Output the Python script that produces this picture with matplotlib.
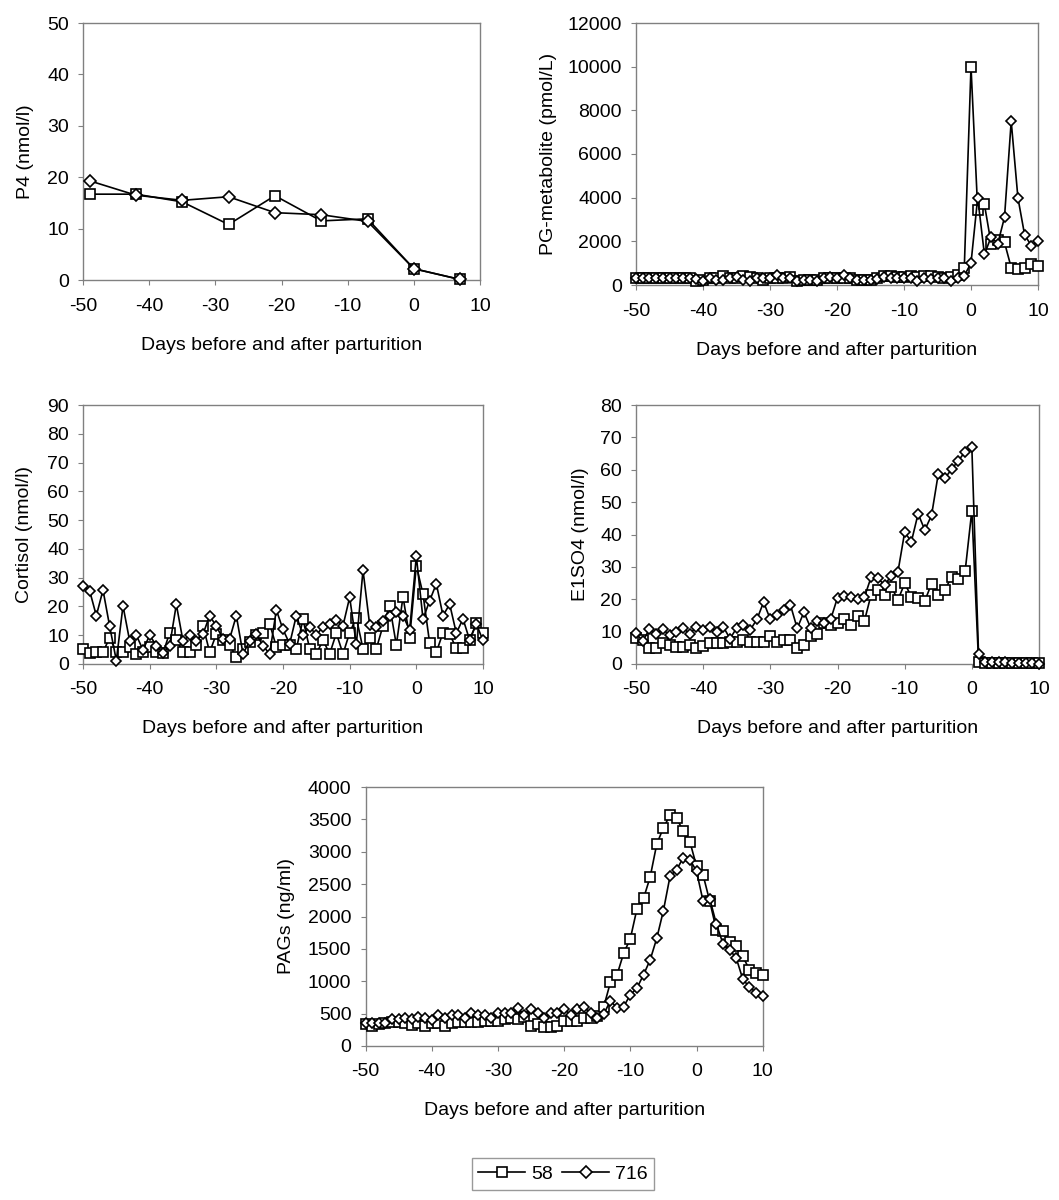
import matplotlib
matplotlib.use("Agg")
import matplotlib.pyplot as plt
import numpy as np

plt.rcParams["font.family"] = ["Liberation Sans", "DejaVu Sans"]
plt.rcParams["font.size"] = 14
plt.rcParams["axes.unicode_minus"] = False

# ---- data ----
p4_days = [-49, -42, -35, -28, -21, -14, -7, 0, 7]
p4_58 = [16.7, 16.7, 15.2, 10.8, 16.4, 11.5, 11.9, 2.2, 0.1]
p4_716 = [19.3, 16.5, 15.5, 16.2, 13.1, 12.7, 11.4, 2.2, 0.1]

days = list(range(-50, 11))

pg_58 = [300, 320, 300, 300, 300, 320, 300, 310, 300, 200,
         250, 300, 300, 400, 300, 300, 400, 350, 300, 250,
         300, 300, 300, 350, 200, 250, 250, 250, 300, 300,
         300, 300, 300, 250, 250, 250, 300, 400, 400, 350,
         350, 400, 350, 400, 400, 350, 300, 350, 450, 800,
         10000, 3450, 3700, 1900, 2050, 1950, 800, 720, 800, 950, 870]
pg_716 = [300, 320, 310, 300, 320, 310, 300, 310, 320, 290,
          200, 330, 250, 220, 300, 350, 250, 200, 300, 310,
          330, 450, 320, 300, 200, 220, 250, 200, 320, 350,
          310, 450, 300, 250, 230, 250, 280, 350, 300, 330,
          300, 330, 200, 300, 280, 300, 320, 200, 300, 430,
          1000, 4000, 1400, 2200, 1900, 3100, 7500, 4000, 2300, 1800, 2000]

cort_58 = [5.3, 3.7, 4.1, 4.1, 9.2, 4.1, 4.1, 6.0, 3.5, 4.1,
           6.0, 4.1, 3.7, 10.9, 8.3, 4.1, 4.1, 6.6, 13.3, 4.1,
           10.4, 8.3, 6.6, 2.3, 5.3, 7.8, 10.0, 10.9, 14.0, 6.0,
           6.6, 6.6, 5.3, 15.5, 5.3, 3.5, 8.3, 3.5, 10.7, 3.5,
           10.9, 16.1, 5.3, 9.2, 5.3, 13.3, 20.3, 6.6, 23.4, 9.2,
           34.2, 24.3, 7.2, 4.1, 10.9, 10.4, 5.4, 5.4, 8.5, 14.1, 10.9]
cort_716 = [27.1, 25.4, 16.8, 25.7, 13.1, 1.2, 20.2, 8.0, 10.0, 4.9,
            10.0, 6.4, 3.7, 6.4, 20.7, 8.0, 10.0, 8.0, 10.4, 16.8,
            13.1, 8.8, 8.8, 16.8, 3.5, 8.0, 10.4, 6.3, 3.5, 18.8,
            12.0, 7.0, 16.8, 10.0, 13.0, 10.0, 13.0, 13.8, 15.2, 13.3,
            23.2, 6.8, 32.6, 13.6, 13.0, 15.0, 16.8, 18.2, 16.8, 11.8,
            37.5, 15.6, 22.0, 27.9, 16.8, 20.8, 10.7, 15.7, 8.3, 13.9, 8.2]

e1_58 = [7.9, 7.4, 4.8, 4.8, 6.6, 6.0, 5.4, 5.4, 5.9, 4.8,
         5.6, 6.4, 6.4, 6.4, 6.9, 6.9, 7.4, 6.9, 6.9, 6.9,
         8.7, 6.9, 7.4, 7.4, 4.8, 5.9, 8.7, 9.3, 12.6, 12.1,
         12.6, 13.8, 12.1, 14.9, 13.2, 21.4, 22.9, 21.4, 23.9, 19.8,
         24.9, 20.8, 20.3, 19.5, 24.8, 21.3, 23.0, 26.9, 26.4, 28.6,
         47.4, 0.7, 0.3, 0.3, 0.3, 0.3, 0.2, 0.2, 0.2, 0.2, 0.2]
e1_716 = [9.5, 7.1, 10.7, 9.3, 10.7, 8.9, 10.0, 11.2, 9.3, 11.5,
          10.5, 11.5, 9.8, 11.5, 7.8, 11.2, 11.9, 10.5, 13.8, 19.1,
          13.8, 15.0, 16.7, 18.2, 11.0, 16.0, 11.2, 13.4, 12.6, 13.9,
          20.5, 21.0, 20.6, 20.0, 20.6, 26.8, 26.5, 24.4, 27.2, 28.5,
          40.7, 37.8, 46.4, 41.4, 45.9, 58.7, 57.4, 60.2, 62.8, 65.6,
          67.0, 3.1, 0.6, 0.5, 0.5, 0.5, 0.3, 0.2, 0.2, 0.2, 0.1]

pag_58 = [340, 310, 335, 350, 370, 370, 360, 330, 350, 310,
          350, 360, 310, 360, 370, 370, 370, 370, 380, 380,
          380, 420, 430, 420, 450, 310, 340, 290, 300, 310,
          380, 390, 390, 440, 430, 465, 610, 985, 1100, 1435,
          1655, 2115, 2280, 2610, 3120, 3370, 3565, 3515, 3320, 3155,
          2780, 2640, 2235, 1795, 1770, 1600, 1550, 1385, 1175, 1135, 1100]
pag_716 = [360, 360, 360, 360, 410, 410, 440, 410, 455, 440,
           400, 475, 440, 475, 475, 440, 505, 475, 475, 440,
           515, 515, 505, 585, 475, 570, 515, 440, 505, 505,
           570, 480, 570, 595, 515, 440, 495, 700, 585, 610,
           790, 895, 1100, 1330, 1665, 2090, 2620, 2725, 2905, 2880,
           2700, 2235, 2275, 1885, 1580, 1485, 1360, 1030, 910, 825, 775]

xlabel = "Days before and after parturition"
W, H = 1059, 1200
GREY = "#808080"

fig = plt.figure(figsize=(W / 100, H / 100), dpi=100)


def make_axes(x0, y0, x1, y1):
    return fig.add_axes([x0 / W, 1 - y1 / H, (x1 - x0) / W, (y1 - y0) / H])


def draw(box, x, s58, s716, ymax, ystep, ylabel, ylab_right, xlab_top, big=False):
    x0, y0, x1, y1 = box
    ax = make_axes(x0, y0, x1, y1)
    ms_s, ms_d = (7.4, 5.8) if big else (6.8, 5.4)
    l1, = ax.plot(x, s58, color="black", lw=1.2, marker="s", ms=ms_s,
                  mfc="white", mec="black", mew=1.2, clip_on=False, zorder=3)
    l2, = ax.plot(x, s716, color="black", lw=1.2, marker="D", ms=ms_d,
                  mfc="white", mec="black", mew=1.2, clip_on=False, zorder=4)
    ax.set_xlim(-50, 10)
    ax.set_ylim(0, ymax)
    ax.set_xticks(np.arange(-50, 11, 10))
    ax.set_yticks(np.arange(0, ymax + 1, ystep))
    for sp in ax.spines.values():
        sp.set_color(GREY)
        sp.set_linewidth(1.0)
    ax.tick_params(axis="both", direction="out", length=3.6, width=0.8, color=GREY)
    ax.tick_params(axis="y", pad=6.5)
    ax.tick_params(axis="x", pad=9)
    ax.set_ylabel(ylabel)
    ax.set_xlabel(xlabel)
    ax.yaxis.set_label_coords((ylab_right - x0) / (x1 - x0), 0.5)
    ax.xaxis.set_label_coords(0.5, (y1 - xlab_top) / (y1 - y0))
    return l1, l2


h = draw((83, 23, 480, 280), p4_days, p4_58, p4_716, 50, 10, "P4 (nmol/l)", 34, 337, big=True)
draw((636, 23, 1038, 285), days, pg_58, pg_716, 12000, 2000, "PG-metabolite (pmol/L)", 557, 342)
draw((83, 405, 483, 664), days, cort_58, cort_716, 90, 10, "Cortisol (nmol/l)", 33, 720)
draw((636, 405, 1039, 664), days, e1_58, e1_716, 80, 10, "E1SO4 (nmol/l)", 589, 720)
draw((365.5, 787, 762.7, 1046), days, pag_58, pag_716, 4000, 500, "PAGs (ng/ml)", 295, 1102)

leg = fig.legend(h, ["58", "716"], loc="center", bbox_to_anchor=(563 / W, 1 - 1174 / H),
                 ncol=2, frameon=True, fancybox=False, handlelength=2.4,
                 handletextpad=0.3, columnspacing=0.5, borderpad=0.35,
                 borderaxespad=0)
leg.get_frame().set_edgecolor(GREY)
leg.get_frame().set_linewidth(1.0)

fig.savefig("out.png", dpi=100)
